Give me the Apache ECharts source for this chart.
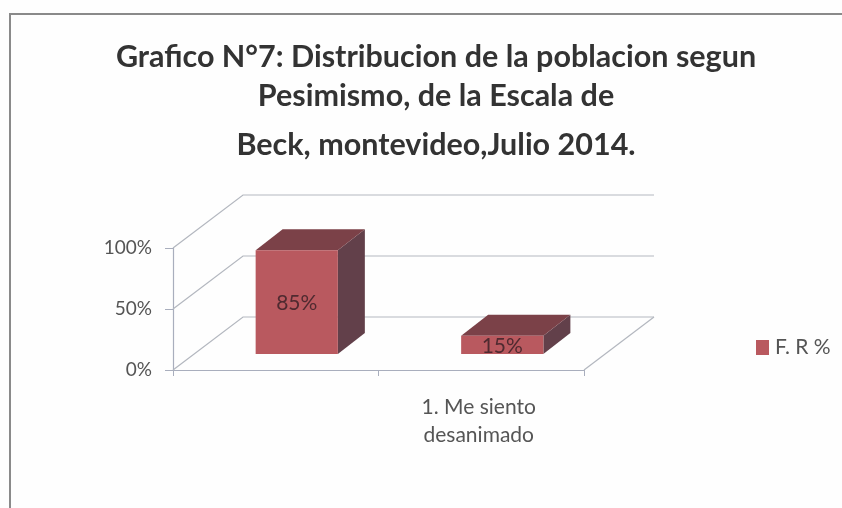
<!DOCTYPE html>
<html><head><meta charset="utf-8">
<style>html,body{margin:0;padding:0;background:#fefefe}#c{width:842px;height:508px;filter:blur(0.5px)}</style>
<script src="https://cdn.jsdelivr.net/npm/echarts@6/dist/echarts.min.js"></script>
</head><body><div id="c"></div>
<script>
const categories = ['', '1. Me siento\ndesanimado'];
const seriesName = 'F. R %';
const values = [85, 15];
const gridTicks = [0, 50, 100];
const titleLines = ['Grafico N°7: Distribucion de la poblacion segun', 'Pesimismo, de la Escala de', 'Beck, montevideo,Julio 2014.'];

const FONT = 'Lato';
const WALL = [70, -53], BAR_START = [21, -16], BAR_DEPTH = [27, -21];
const FRONT = '#b9595f', TOP = '#7b4148', SIDE = '#62404a';
const chart = echarts.init(document.getElementById('c'), null, {renderer: 'canvas'});

function renderWalls(params, api) {
  const v = api.value(0);
  const half = api.size([1, 0])[0] / 2;
  const a = api.coord([0, v]), b = api.coord([categories.length - 1, v]);
  const x0 = a[0] - half, x1 = b[0] + half, y = a[1];
  const children = [{
    type: 'polyline',
    shape: {points: [[x0, y], [x0 + WALL[0], y + WALL[1]], [x1 + WALL[0], y + WALL[1]]]},
    style: {fill: 'none', stroke: '#b3b7bf', lineWidth: 1.2}
  }];
  if (v === 0) children.push({
    type: 'line',
    shape: {x1: x1, y1: y, x2: x1 + WALL[0], y2: y + WALL[1]},
    style: {stroke: '#b3b7bf', lineWidth: 1.2}
  });
  return {type: 'group', children};
}

function renderBar(params, api) {
  const base = api.coord([api.value(0), 0]);
  const top = api.coord([api.value(0), api.value(1)]);
  const w = api.size([1, 0])[0] * 0.4;
  const l = base[0] + BAR_START[0] - w / 2, r = l + w;
  const b = base[1] + BAR_START[1], t = top[1] + BAR_START[1];
  const dx = BAR_DEPTH[0], dy = BAR_DEPTH[1];
  return {type: 'group', children: [
    {type: 'polygon', shape: {points: [[r, t], [r + dx, t + dy], [r + dx, b + dy], [r, b]]}, style: {fill: SIDE}},
    {type: 'polygon', shape: {points: [[l, t], [l + dx, t + dy], [r + dx, t + dy], [r, t]]}, style: {fill: TOP}},
    {type: 'rect', shape: {x: l, y: t, width: w, height: b - t}, style: {fill: FRONT}},
    {type: 'text', style: {x: (l + r) / 2, y: (t + b) / 2 + 1, text: api.value(1) + '%', align: 'center', verticalAlign: 'middle',
      font: '21px ' + FONT, fill: '#4f2a30'}}
  ]};
}

const titleTops = [37, 76, 125];
chart.setOption({
  animation: false,
  backgroundColor: '#fefefe',
  title: titleLines.map((t, i) => ({
    text: t, left: 431, textAlign: 'center', top: titleTops[i],
    textStyle: {fontFamily: FONT, fontWeight: 'bold', fontSize: 30.5, color: '#333'}
  })),
  legend: {
    data: [seriesName], left: 751, top: 332, icon: 'rect', itemWidth: 13, itemHeight: 15, itemGap: 0,
    textStyle: {fontFamily: FONT, fontSize: 21, color: '#555', padding: [0, 0, 0, 1]}
  },
  grid: {left: 173, top: 248, width: 411, height: 122},
  xAxis: {
    type: 'category', data: categories,
    axisLine: {lineStyle: {color: '#a9aebd', width: 1.2}},
    axisTick: {show: true, length: 6, lineStyle: {color: '#a9aebd'}},
    axisLabel: {fontFamily: FONT, fontSize: 21, color: '#555', lineHeight: 28, margin: 23, interval: 0, padding: [0, 5, 0, 0]}
  },
  yAxis: {
    type: 'value', min: 0, max: 100, interval: 50,
    axisLine: {show: true, lineStyle: {color: '#a9aebd', width: 1.2}},
    axisTick: {show: true, length: 8, lineStyle: {color: '#a9aebd'}},
    axisLabel: {formatter: '{value}%', fontFamily: FONT, fontSize: 19, color: '#555', margin: 21, padding: [4, 0, 0, 0]},
    splitLine: {show: false}
  },
  series: [
    {type: 'custom', name: 'walls', coordinateSystem: 'cartesian2d', renderItem: renderWalls,
      data: gridTicks.map(v => [v]), encode: {y: 0}, silent: true, z: 1},
    {type: 'custom', name: seriesName, coordinateSystem: 'cartesian2d', renderItem: renderBar,
      itemStyle: {color: FRONT},
      data: values.map((v, i) => [i, v]), encode: {x: 0, y: 1}, z: 3}
  ],
  graphic: [
    {type: 'polyline', shape: {points: [[10, 508], [10, 14], [842, 14]]}, style: {fill: 'none', stroke: '#8a8a8a', lineWidth: 2}, silent: true}
  ]
});
</script></body></html>
